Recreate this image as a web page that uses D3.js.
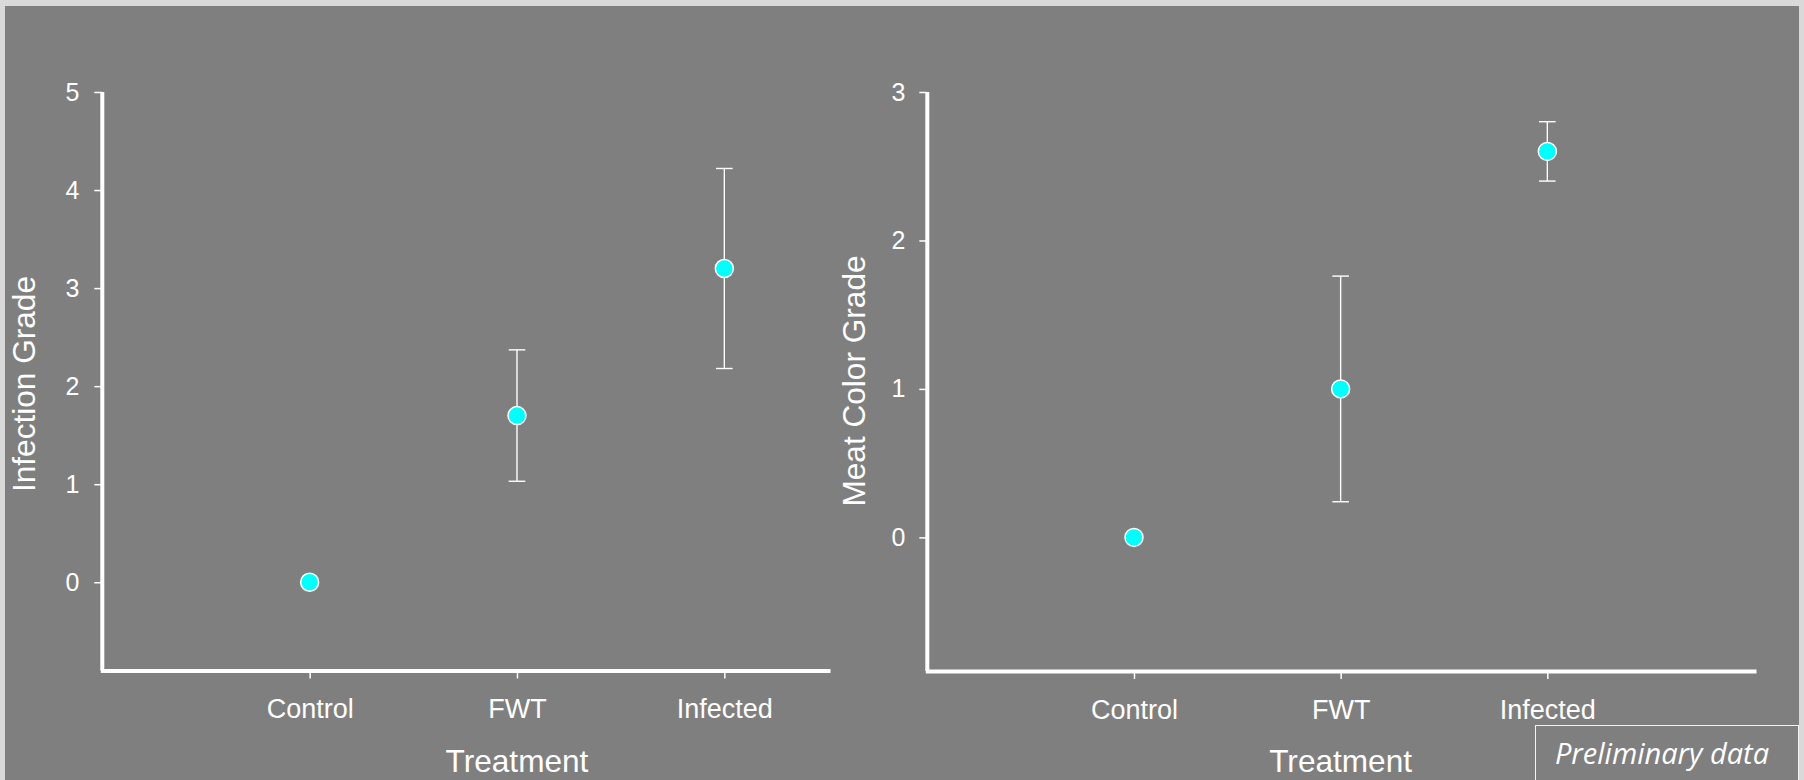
<!DOCTYPE html>
<html>
<head>
<meta charset="utf-8">
<script src="https://cdn.jsdelivr.net/npm/d3@7"></script>
<style>
  html, body { margin: 0; padding: 0; background: #d9d9d9; }
  svg { display: block; }
  .axis text { font-family: "Liberation Sans", Arial, sans-serif; fill: #fff; }
  .axis line { stroke: #fff; stroke-width: 1.5; }
  .axis path.domain { stroke: #fff; stroke-width: 4; }
</style>
</head>
<body>
<svg id="chart"></svg>
<script>
const categories = ["Control", "FWT", "Infected"];
const infectionMean = [0, 1.7, 3.2];
const infectionErr = [null, 0.67, 1.02];
const meatMean = [0, 1.0, 2.6];
const meatErr = [null, 0.76, 0.2];
const infectionTicks = [0, 1, 2, 3, 4, 5];
const meatTicks = [0, 1, 2, 3];

const width = 1804;
const height = 780;

const svg = d3.select("#chart")
  .attr("width", width)
  .attr("height", height)
  .attr("viewBox", [0, 0, width, height]);

// gray slide panel
svg.append("rect")
  .attr("x", 5).attr("y", 6)
  .attr("width", 1794).attr("height", height - 6)
  .attr("fill", "#7f7f7f");

const panels = [
  {
    means: infectionMean, errs: infectionErr, ticks: infectionTicks,
    yLabel: "Infection Grade", xMax: 3.5,
    left: 102.3, right: 828, bottom: 670.5, top: 92,
    yDomain: [-0.9, 5], labelX: 35, labelY: 384, tickPad: 15
  },
  {
    means: meatMean, errs: meatErr, ticks: meatTicks,
    yLabel: "Meat Color Grade", xMax: 4,
    left: 927.3, right: 1754, bottom: 671, top: 92,
    yDomain: [-0.9, 3], labelX: 865, labelY: 381, tickPad: 14
  }
];

panels.forEach((p) => {
  const x = d3.scaleLinear().domain([0, p.xMax]).range([p.left, p.right]);
  const y = d3.scaleLinear().domain(p.yDomain).range([p.bottom, p.top]);
  const g = svg.append("g");

  const xAxisG = g.append("g")
    .attr("class", "axis")
    .attr("transform", `translate(0,${p.bottom})`)
    .call(
      d3.axisBottom(x)
        .tickValues([1, 2, 3])
        .tickFormat((d) => categories[d - 1])
        .tickSize(8)
        .tickSizeOuter(0)
    );
  xAxisG.select(".domain").attr("stroke-linecap", "square");
  xAxisG.selectAll("text")
    .attr("dy", null)
    .attr("y", 47.5)
    .style("font-size", "27px");

  const yAxisG = g.append("g")
    .attr("class", "axis")
    .attr("transform", `translate(${p.left},0)`)
    .call(
      d3.axisLeft(y)
        .tickValues(p.ticks)
        .tickFormat(d3.format("d"))
        .tickSize(8)
        .tickPadding(p.tickPad)
        .tickSizeOuter(0)
    );
  yAxisG.select(".domain").attr("d", `M0,${p.bottom}V${p.top}`);
  yAxisG.selectAll("text").style("font-size", "25px");

  // axis titles
  g.append("text")
    .attr("transform", `translate(${p.labelX},${p.labelY}) rotate(-90)`)
    .attr("text-anchor", "middle")
    .attr("fill", "#fff")
    .style("font-family", "'Liberation Sans', Arial, sans-serif")
    .style("font-size", "31.6px")
    .text(p.yLabel);

  g.append("text")
    .attr("x", x(2))
    .attr("y", 772)
    .attr("text-anchor", "middle")
    .attr("fill", "#fff")
    .style("font-family", "'Liberation Sans', Arial, sans-serif")
    .style("font-size", "31.6px")
    .text("Treatment");

  const rows = categories.map((c, i) => ({ i, mean: p.means[i], err: p.errs[i] }));
  const withErr = rows.filter((d) => d.err != null);

  // error bars
  const eb = g.append("g")
    .attr("stroke", "#fff")
    .attr("stroke-width", 1.4)
    .selectAll("g")
    .data(withErr)
    .join("g");
  eb.append("line")
    .attr("x1", (d) => x(d.i + 1)).attr("x2", (d) => x(d.i + 1))
    .attr("y1", (d) => y(d.mean - d.err)).attr("y2", (d) => y(d.mean + d.err));
  eb.append("line")
    .attr("x1", (d) => x(d.i + 1) - 8.3).attr("x2", (d) => x(d.i + 1) + 8.3)
    .attr("y1", (d) => y(d.mean + d.err)).attr("y2", (d) => y(d.mean + d.err));
  eb.append("line")
    .attr("x1", (d) => x(d.i + 1) - 8.3).attr("x2", (d) => x(d.i + 1) + 8.3)
    .attr("y1", (d) => y(d.mean - d.err)).attr("y2", (d) => y(d.mean - d.err));

  // points
  g.append("g")
    .selectAll("circle")
    .data(rows)
    .join("circle")
    .attr("cx", (d) => x(d.i + 1))
    .attr("cy", (d) => y(d.mean))
    .attr("r", 9)
    .attr("fill", "#00ffff")
    .attr("stroke", "#fff")
    .attr("stroke-width", 1.5);
});

// "Preliminary data" note
svg.append("rect")
  .attr("x", 1535.5).attr("y", 725.5)
  .attr("width", 263).attr("height", 70)
  .attr("fill", "none")
  .attr("stroke", "#f2f2f2")
  .attr("stroke-width", 1);
svg.append("text")
  .attr("x", 1662)
  .attr("y", 764)
  .attr("text-anchor", "middle")
  .attr("fill", "#fff")
  .style("font-family", "'Open Sans', sans-serif")
  .style("font-style", "italic")
  .style("font-size", "29px")
  .text("Preliminary data");
</script>
</body>
</html>
